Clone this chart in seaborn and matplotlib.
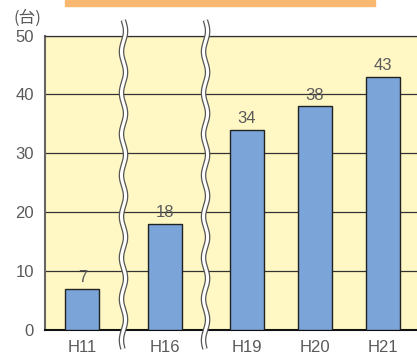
import numpy as np
import matplotlib
matplotlib.use("Agg")
import matplotlib.pyplot as plt
import seaborn as sns
from matplotlib.patches import Rectangle

labels = ["H11", "H16", "H19", "H20", "H21"]
xpos = [0, 1.206, 2.412, 3.412, 4.412]
counts = [7, 18, 34, 38, 43]

sns.set_style("white")
plt.rcParams["font.family"] = ["Liberation Sans", "Noto Sans CJK JP"]

txt = "#5a5a5a"
fig = plt.figure(figsize=(4.17, 3.56), dpi=100)
ax = fig.add_axes([45 / 417, 26 / 356, 372 / 417, 294.5 / 356])
ax.set_facecolor("#FFF8C4")

sns.barplot(x=xpos, y=counts, native_scale=True, width=0.5,
            color="#7BA4D8", saturation=1, edgecolor="#222222",
            linewidth=1.0, ax=ax, zorder=3)

ax.set_xlim(-0.551, 4.917)
ax.set_ylim(0, 50)
ax.set_yticks([0, 10, 20, 30, 40, 50])
ax.set_xticks(xpos)
ax.set_xticklabels(labels)
ax.yaxis.grid(True, color="#333333", linewidth=0.9)
ax.set_axisbelow(True)
ax.tick_params(length=0, labelsize=12, colors=txt)
ax.tick_params(axis="y", pad=8)
ax.tick_params(axis="x", pad=7)
ax.set_xlabel("")
ax.set_ylabel("")

ax.spines["right"].set_visible(False)
ax.spines["top"].set_color("#333333")
ax.spines["top"].set_linewidth(0.9)
ax.spines["left"].set_color("#666666")
ax.spines["left"].set_linewidth(1.5)
ax.spines["bottom"].set_color("#111111")
ax.spines["bottom"].set_linewidth(1.5)

for x, v in zip(xpos, counts):
    ax.text(x, v + 0.6, str(v), ha="center", va="bottom", fontsize=12, color=txt)

ax.text(-0.81, 51.5, "(台)", ha="center", va="bottom", fontsize=12,
        color=txt, clip_on=False, family=["Noto Sans CJK JP"])

# break marks between non-consecutive years
yy = np.linspace(-3.2, 52.6, 300)
for i in range(2):
    xm = (xpos[i] + xpos[i + 1]) / 2
    xx = xm + 0.03 * np.sin(yy / 7.0 * 2 * np.pi)
    ax.plot(xx, yy, color="#555555", linewidth=4.0, clip_on=False, zorder=5,
            solid_capstyle="butt")
    ax.plot(xx, yy, color="white", linewidth=2.2, clip_on=False, zorder=6,
            solid_capstyle="butt")

# cropped orange title box at the top
fig.patches.append(Rectangle((65 / 417, 350 / 356), 310 / 417, 6 / 356,
                             transform=fig.transFigure, color="#F9B870"))

fig.savefig("out.png", dpi=100)
